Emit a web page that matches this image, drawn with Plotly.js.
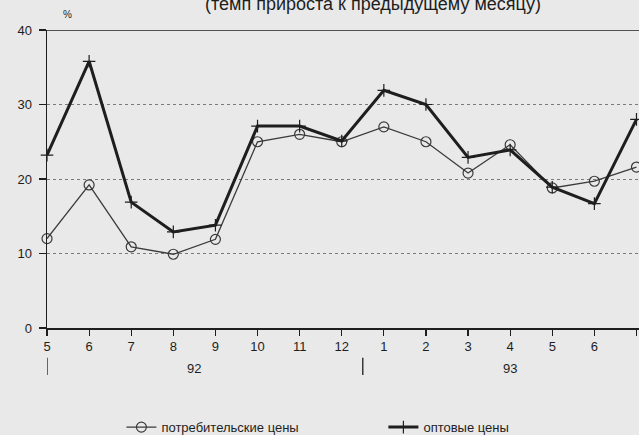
<!DOCTYPE html>
<html>
<head>
<meta charset="utf-8">
<script src="https://cdn.plot.ly/plotly-3.0.1.min.js"></script>
<style>
html,body{margin:0;padding:0;background:#e9e9e9;}
#chart{width:639px;height:435px;}
</style>
</head>
<body>
<div id="chart"></div>
<script>
// Months from May 1992 to July 1993
const monthLabels = ["5","6","7","8","9","10","11","12","1","2","3","4","5","6","7"];
const consumerPrices = [12, 19.2, 10.9, 9.9, 11.9, 25, 26, 25, 27, 25, 20.8, 24.6, 18.8, 19.7, 21.6];
const wholesalePrices = [23.2, 35.8, 16.9, 12.9, 13.8, 27.1, 27.1, 25.1, 31.9, 30, 22.9, 23.9, 18.9, 16.7, 28];
const yearLabels = ["92", "93"];
const yearLabelPos = [3.5, 11];
const yearSeparators = [0, 7.5];

const idx = monthLabels.map((_, i) => i);
const ink = "#1e1e1e";
const font = "Liberation Sans, Arial, sans-serif";

const traces = [
  {
    x: idx, y: consumerPrices, type: "scatter", mode: "lines+markers",
    name: "потребительские цены",
    line: {color: "#3a3a3a", width: 1.3},
    marker: {symbol: "circle-open", size: 10, color: "#3a3a3a", line: {width: 1.2}},
    cliponaxis: false
  },
  {
    x: idx, y: wholesalePrices, type: "scatter", mode: "lines+markers",
    name: "оптовые цены",
    line: {color: ink, width: 3},
    marker: {symbol: "cross-thin", size: 9, color: ink, line: {width: 1.2, color: ink}},
    cliponaxis: false
  }
];

const annotations = [
  {text: "(темп прироста к предыдущему месяцу)", xref: "paper", yref: "paper",
   x: 0.55, y: 1, yshift: 26, xanchor: "center", yanchor: "middle", showarrow: false,
   font: {family: font, size: 18, color: ink}},
  {text: "%", xref: "paper", yref: "paper", x: 0.035, y: 1, yshift: 16,
   xanchor: "center", yanchor: "middle", showarrow: false,
   font: {family: font, size: 10, color: ink}}
];
yearLabels.forEach((t, i) => annotations.push({
  text: t, x: yearLabelPos[i], xref: "x", y: 0, yref: "paper", yshift: -40,
  xanchor: "center", yanchor: "middle", showarrow: false,
  font: {family: font, size: 13, color: ink}
}));

const shapes = [
  {type: "line", xref: "paper", yref: "y", x0: 0, x1: 1, y0: 40, y1: 40,
   line: {color: ink, width: 1.5}}
];
yearSeparators.forEach(v => shapes.push({
  type: "line", xref: "x", yref: "paper", x0: v, x1: v, y0: -0.1, y1: -0.158,
  line: {color: ink, width: 1.3}
}));

const layout = {
  width: 639, height: 435,
  margin: {l: 47, r: 0, t: 30, b: 107},
  paper_bgcolor: "#e9e9e9", plot_bgcolor: "#e9e9e9",
  font: {family: font, size: 13, color: ink},
  showlegend: true,
  legend: {orientation: "h", xref: "container", yref: "container",
           x: 0.19, y: 0.018, xanchor: "left", yanchor: "middle",
           bgcolor: "rgba(0,0,0,0)", font: {family: font, size: 13, color: ink},
           entrywidth: 217, entrywidthmode: "pixels"},
  xaxis: {
    range: [0, 14.06], tickvals: idx, ticktext: monthLabels,
    showgrid: false, zeroline: false, showline: true, linecolor: ink, linewidth: 1.5,
    ticks: "outside", ticklen: 6, tickcolor: ink, tickwidth: 1.2,
    tickfont: {family: font, size: 13, color: ink}
  },
  yaxis: {
    range: [0, 40], tickvals: [0, 10, 20, 30, 40],
    showgrid: true, gridcolor: "#7a7a7a", griddash: "dot", gridwidth: 1,
    zeroline: false, showline: true, linecolor: ink, linewidth: 1.5,
    ticks: "outside", ticklen: 7, tickcolor: ink, tickwidth: 1.2,
    ticklabelstandoff: 4,
    tickfont: {family: font, size: 13, color: ink}
  },
  shapes: shapes,
  annotations: annotations
};

Plotly.newPlot("chart", traces, layout, {displayModeBar: false, staticPlot: true});
</script>
</body>
</html>
